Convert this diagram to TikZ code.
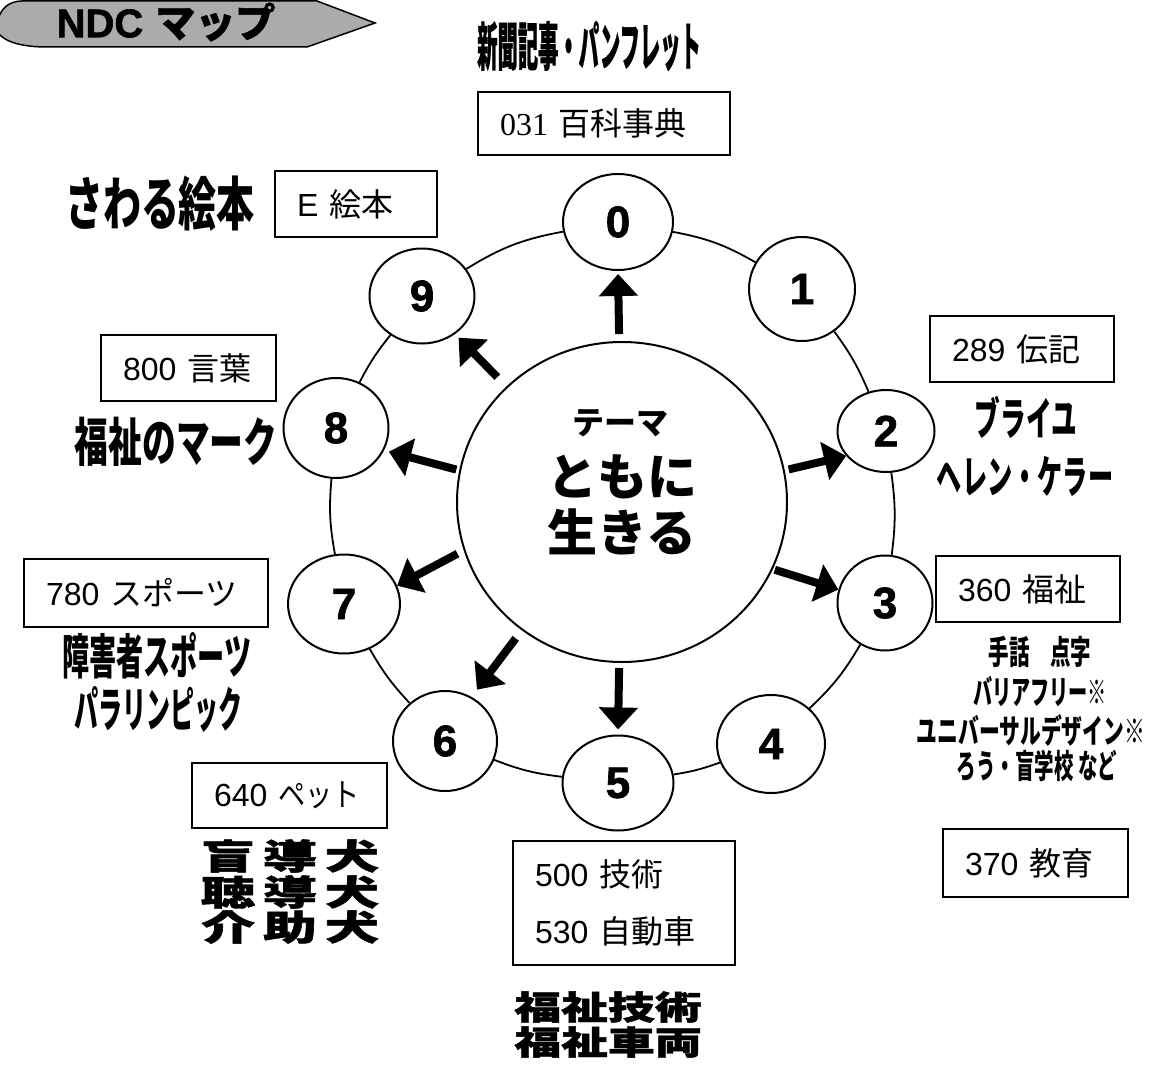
\documentclass[tikz,border=0pt]{standalone}
\usepackage{fontspec}
\usepackage{graphicx}
\usetikzlibrary{shapes.geometric,arrows.meta}
\newfontfamily\jp{Noto Sans CJK JP}
\newfontfamily\jpH[FakeBold=1.2]{Noto Sans CJK JP}
\newfontfamily\lib{Liberation Sans}
\newfontfamily\libH[FakeBold=1.5]{Liberation Sans}
\newfontfamily\libs{Liberation Serif}
\newcommand\hsc[2]{\scalebox{#1}[1]{#2}}
\newcommand\setfs[1]{\fontsize{#1}{#1}\selectfont}
\begin{document}
\begin{tikzpicture}[x=1pt,y=1pt,
  num/.style={ellipse,draw,line width=2pt,fill=white,inner sep=0pt,font=\libH\bfseries\setfs{44}},
  ring/.style={line width=1.8pt},
  bigarr/.style={line width=8pt,-{Triangle[length=22pt,width=38pt]}},
  box/.style={draw,line width=2pt,rectangle,inner xsep=22pt,inner ysep=0pt,align=left,font=\setfs{32}},
  lbl/.style={inner sep=0pt,font=\jp\bfseries},
  heavy/.style={inner sep=0pt,font=\jpH\bfseries}
]
\fill[white] (0,0) rectangle (1170,-1065);
\useasboundingbox (0,0) rectangle (1170,-1065);

% banner
\path[draw,line width=1.5pt,fill=black!33]
  (22,-1) -- (317,-1) -- (375,-23) -- (307,-47) -- (47,-47)
  .. controls (10,-47) and (-6,-36) .. (-3,-24)
  .. controls (-1,-10) and (8,-1) .. (22,-1) -- cycle;
\node[inner sep=0pt,font=\setfs{40}] (tNDC) at (166,-22) {{\libH\bfseries NDC} {\jpH\bfseries マップ}};

% centre
\node[ellipse,draw,line width=2pt,minimum width=330pt,minimum height=320pt,inner sep=0pt] (c) at (622,-502) {};
\node[inner sep=0pt,font=\jp\bfseries\setfs{32}] (t1) at (620,-423) {テーマ};
\node[inner sep=0pt,font=\jp\bfseries\setfs{50}] (t2) at (622,-477) {ともに};
\node[inner sep=0pt,font=\jp\bfseries\setfs{50}] (t3) at (622,-532) {生きる};

% ring nodes
\node[num,minimum width=110pt,minimum height=96pt] (n0) at (618,-222) {0};
\node[num,minimum width=106pt,minimum height=104pt] (n1) at (802,-289) {1};
\node[num,minimum width=97pt,minimum height=82pt] (n2) at (886,-431) {2};
\node[num,minimum width=95pt,minimum height=95pt] (n3) at (885,-603) {3};
\node[num,minimum width=108pt,minimum height=98pt] (n4) at (771,-744) {4};
\node[num,minimum width=111pt,minimum height=95pt] (n5) at (618,-783) {5};
\node[num,minimum width=104pt,minimum height=100pt] (n6) at (445,-741) {6};
\node[num,minimum width=112pt,minimum height=99pt] (n7) at (344,-604) {7};
\node[num,minimum width=105pt,minimum height=100pt] (n8) at (336,-428) {8};
\node[num,minimum width=105pt,minimum height=95pt] (n9) at (422,-296) {9};

\foreach \a/\b/\t in {n0/n1/9.8,n1/n2/6.6,n2/n3/7.6,n3/n4/8.2,n4/n5/5.6,n5/n6/7.3,n6/n7/6.6,n7/n8/7.7,n8/n9/5.8,n9/n0/10.7}
  \draw[ring] (\a) to[bend left=\t] (\b);

% arrows
\draw[bigarr,shorten <=7pt,shorten >=3pt] (c.91) -- (n0.270);
\draw[bigarr,shorten <=4pt] (c.11) -- (n2.212);
\draw[bigarr,shorten <=2pt] (c.-24) -- (n3.164);
\draw[bigarr,shorten <=5pt,shorten >=5pt] (c.-91) -- (n5.90);
\draw[bigarr,shorten <=10pt,shorten >=9pt] (c.232) -- (n6.59);
\draw[bigarr,shorten <=7pt] (c.197) -- (n7.19);
\draw[bigarr,shorten <=3pt,shorten >=5pt] (c.169) -- (n8.-25);
\draw[bigarr,shorten <=13pt,shorten >=5pt] (c.135) -- (n9.-49);

% boxes
\node[box,text width=208pt,minimum height=63pt] (b0) at (604,-123.5) {\mbox{{\libs 031} {\jp 百科事典}}};
\node[box,text width=118pt,minimum height=66pt] (bE) at (356,-204) {\mbox{{\lib E} {\jp 絵本}}};
\node[box,text width=131pt,minimum height=66pt] (b8) at (188.5,-368) {\mbox{{\lib 800} {\jp 言葉}}};
\node[box,text width=140pt,minimum height=66pt] (b2) at (1022,-349) {\mbox{{\lib 289} {\jp 伝記}}};
\node[box,text width=140pt,minimum height=66pt] (b3) at (1028,-589) {\mbox{{\lib 360} {\jp 福祉}}};
\node[box,text width=141pt,minimum height=68pt] (b37) at (1035.5,-863) {\mbox{{\lib 370} {\jp 教育}}};
\node[box,text width=200pt,minimum height=68pt] (b7) at (146,-593) {\mbox{{\lib 780} {\jp スポーツ}}};
\node[box,text width=151pt,minimum height=65pt] (b6) at (289.5,-795.5) {\mbox{{\lib 640} {\jp\hsc{0.85}{ペット}}}};
\node[box,text width=178pt,minimum height=124pt,font=\fontsize{32}{57}\selectfont] (b5) at (624,-903) {\mbox{{\lib 500} {\jp 技術}}\\\mbox{{\lib 530} {\jp 自動車}}};

% labels
\node[heavy] (tNews) at (589,-46) {\setfs{52}\hsc{0.39}{新聞記事・パンフレット}};
\node[lbl] (tSawaru) at (160,-204) {\setfs{58}\hsc{0.655}{さわる絵本}};
\node[lbl] (tMark) at (176,-442) {\setfs{52}\hsc{0.65}{福祉のマーク}};
\node[lbl] (tBraille) at (1026,-417) {\setfs{45}\hsc{0.57}{ブライユ}};
\node[lbl] (tHelen) at (1025,-476) {\setfs{45}\hsc{0.56}{ヘレン・ケラー}};
\node[lbl] (t3a) at (1040,-652) {\setfs{33}\hsc{0.62}{手話　点字}};
\node[lbl] (t3b) at (1040,-691) {\setfs{33}\hsc{0.58}{バリアフリー※}};
\node[lbl] (t3c) at (1031,-730) {\setfs{33}\hsc{0.63}{ユニバーサルデザイン※}};
\node[lbl] (t3d) at (1037,-766) {\setfs{33}\hsc{0.59}{ろう・盲学校 など}};
\node[lbl] (tSports) at (157,-656) {\setfs{48}\hsc{0.565}{障害者スポーツ}};
\node[lbl] (tPara) at (158,-709) {\setfs{48}\hsc{0.5}{パラリンピック}};
\node[heavy] (d1) at (290,-856) {\setfs{35}\hsc{1.55}{盲\hspace{5pt}導\hspace{5pt}犬}};
\node[heavy] (d2) at (290,-892) {\setfs{35}\hsc{1.55}{聴\hspace{5pt}導\hspace{5pt}犬}};
\node[heavy] (d3) at (290,-927) {\setfs{35}\hsc{1.55}{介\hspace{5pt}助\hspace{5pt}犬}};
\node[heavy] (w1) at (608,-1007) {\setfs{33}\hsc{1.42}{福祉技術}};
\node[heavy] (w2) at (608,-1042) {\setfs{33}\hsc{1.42}{福祉車両}};
\end{tikzpicture}
\end{document}
